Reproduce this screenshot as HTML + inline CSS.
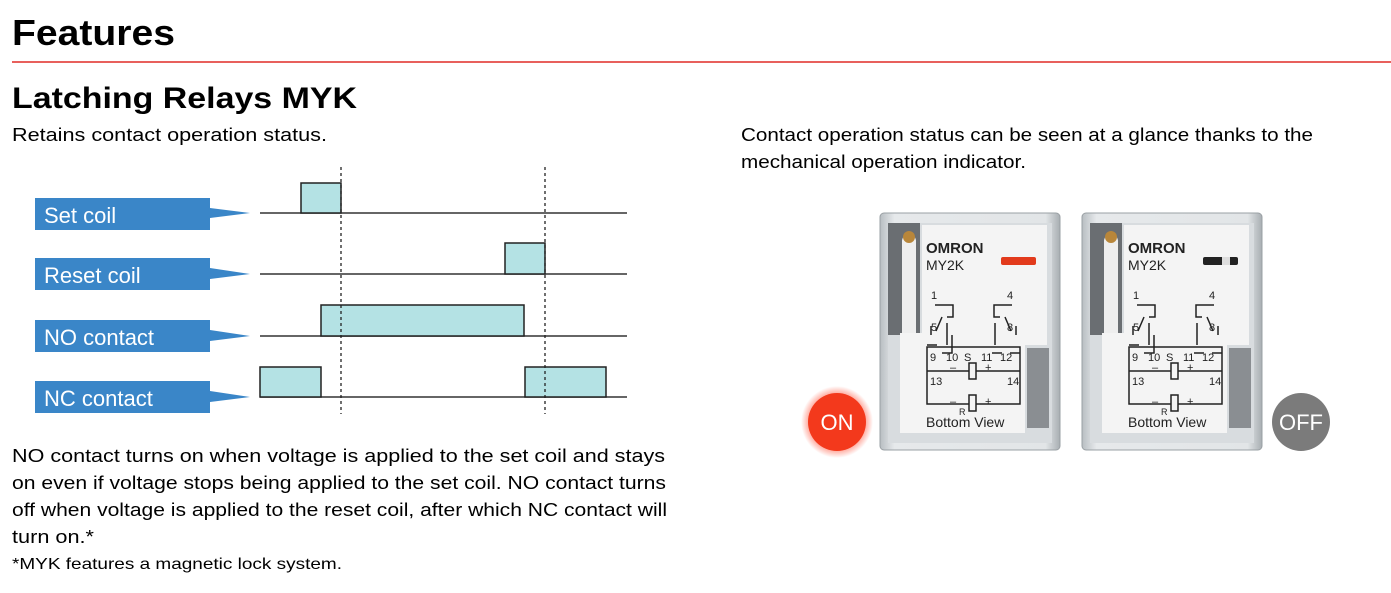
<!DOCTYPE html>
<html><head><meta charset="utf-8"><style>
html,body{margin:0;padding:0;background:#fff;}
svg{display:block;font-family:"Liberation Sans",Arial,sans-serif;}
</style></head><body>
<svg width="1391" height="593" viewBox="0 0 1391 593" xmlns="http://www.w3.org/2000/svg">
<defs>
<radialGradient id="glow" cx="50%" cy="50%" r="50%">
<stop offset="70%" stop-color="#ff3a1e" stop-opacity="0.6"/>
<stop offset="100%" stop-color="#ff3a1e" stop-opacity="0"/>
</radialGradient>
<linearGradient id="frame" x1="0" y1="0" x2="1" y2="0">
<stop offset="0" stop-color="#b8bec2"/><stop offset="0.08" stop-color="#e6e9eb"/>
<stop offset="0.92" stop-color="#e2e5e7"/><stop offset="1" stop-color="#a8aeb2"/>
</linearGradient>
<g id="relay">
<rect x="0" y="0" width="180" height="237" rx="4" fill="url(#frame)" stroke="#9aa0a4"/>
<rect x="8" y="10" width="164" height="220" fill="#d8dcdf"/>
<rect x="8" y="10" width="32" height="112" fill="#6a6e72"/>
<rect x="22" y="22" width="14" height="150" rx="6" fill="#eeeeee"/>
<circle cx="29" cy="24" r="6" fill="#b8863a"/>
<rect x="42" y="12" width="125" height="120" fill="#f4f4f4"/>
<rect x="20" y="120" width="125" height="100" fill="#f4f4f4"/>
<rect x="147" y="135" width="22" height="80" fill="#8a8e92"/>
<text x="46" y="40" font-size="15" font-weight="bold" fill="#222">OMRON</text>
<text x="46" y="57" font-size="14" fill="#222">MY2K</text>
<g fill="none" stroke="#222" stroke-width="1.5">
<path d="M55 92 H73 V104 H67 M62 104 L56 118 M132 92 H114 V104 H120 M125 104 L131 118"/>
<path d="M51 113 V122 M136 113 V122"/>
<path d="M47 132 H57 M67 132 V110 M62 140 H72 V122 M115 132 V110 M112 140 H122 M130 140 H140"/>
<rect x="47" y="134" width="93" height="57"/>
<path d="M47 158 H140"/><rect x="89" y="150" width="7" height="16" fill="#f4f4f4"/>
<rect x="89" y="182" width="7" height="16" fill="#f4f4f4"/>
</g>
<g font-size="11" fill="#222">
<text x="51" y="86">1</text><text x="127" y="86">4</text>
<text x="51" y="118">5</text><text x="127" y="118">8</text>
<text x="50" y="148">9</text><text x="66" y="148">10</text><text x="84" y="148">S</text><text x="101" y="148">11</text><text x="120" y="148">12</text>
<text x="70" y="158">–</text><text x="105" y="158">+</text>
<text x="50" y="172">13</text><text x="127" y="172">14</text>
<text x="70" y="192">–</text><text x="105" y="192">+</text>
<text x="79" y="202" font-size="9">R</text>
<text x="46" y="214" font-size="14">Bottom View</text>
</g>
</g>
</defs>

<text x="12" y="45" font-size="36" font-weight="bold" textLength="163" lengthAdjust="spacingAndGlyphs">Features</text>
<rect x="12" y="61" width="1379" height="2" fill="#e8605c"/>
<text x="12" y="108" font-size="30" font-weight="bold" textLength="345" lengthAdjust="spacingAndGlyphs">Latching Relays MYK</text>
<text x="12" y="141" font-size="18" textLength="315" lengthAdjust="spacingAndGlyphs">Retains contact operation status.</text>

<text x="741" y="141" font-size="18" textLength="572" lengthAdjust="spacingAndGlyphs">Contact operation status can be seen at a glance thanks to the</text>
<text x="741" y="168" font-size="18" textLength="285" lengthAdjust="spacingAndGlyphs">mechanical operation indicator.</text>

<g fill="#3a86c8">
<path d="M35 198 H210 V208 L250 213 L210 218 V230 H35 Z"/>
<path d="M35 258 H210 V268 L250 274 L210 279 V290 H35 Z"/>
<path d="M35 320 H210 V330 L250 336 L210 341 V352 H35 Z"/>
<path d="M35 381 H210 V391 L250 397 L210 402 V413 H35 Z"/>
</g>
<g fill="#fff" font-size="22">
<text x="44" y="223">Set coil</text>
<text x="44" y="283">Reset coil</text>
<text x="44" y="345">NO contact</text>
<text x="44" y="406">NC contact</text>
</g>
<g stroke="#333" stroke-width="1.5">
<line x1="260" y1="213" x2="627" y2="213"/>
<line x1="260" y1="274" x2="627" y2="274"/>
<line x1="260" y1="336" x2="627" y2="336"/>
<line x1="260" y1="397" x2="627" y2="397"/>
</g>
<g fill="#b4e2e4" stroke="#222" stroke-width="1.5">
<rect x="301" y="183" width="40" height="30"/>
<rect x="505" y="243" width="40" height="31"/>
<rect x="321" y="305" width="203" height="31"/>
<rect x="260" y="367" width="61" height="30"/>
<rect x="525" y="367" width="81" height="30"/>
</g>
<g stroke="#222" stroke-width="1.3" stroke-dasharray="3,3">
<line x1="341" y1="167" x2="341" y2="414"/>
<line x1="545" y1="167" x2="545" y2="414"/>
</g>

<g font-size="18">
<text x="12" y="462" textLength="653" lengthAdjust="spacingAndGlyphs">NO contact turns on when voltage is applied to the set coil and stays</text>
<text x="12" y="489" textLength="654" lengthAdjust="spacingAndGlyphs">on even if voltage stops being applied to the set coil. NO contact turns</text>
<text x="12" y="516" textLength="655" lengthAdjust="spacingAndGlyphs">off when voltage is applied to the reset coil, after which NC contact will</text>
<text x="12" y="543" textLength="82" lengthAdjust="spacingAndGlyphs">turn on.*</text>
</g>
<text x="12" y="569" font-size="16" textLength="330" lengthAdjust="spacingAndGlyphs">*MYK features a magnetic lock system.</text>

<use href="#relay" x="880" y="213"/>
<rect x="1001" y="257" width="35" height="8" rx="2" fill="#e23a1c"/>
<use href="#relay" x="1082" y="213"/>
<rect x="1203" y="257" width="35" height="8" rx="2" fill="#222"/>
<rect x="1222" y="257" width="8" height="8" fill="#ddd"/>

<circle cx="837" cy="422" r="36" fill="url(#glow)"/>
<circle cx="837" cy="422" r="29" fill="#f3391c"/>
<text x="837" y="430" font-size="22" fill="#fff" text-anchor="middle">ON</text>
<circle cx="1301" cy="422" r="29" fill="#7b7b7b"/>
<text x="1301" y="430" font-size="22" fill="#fff" text-anchor="middle">OFF</text>
</svg>
</body></html>
